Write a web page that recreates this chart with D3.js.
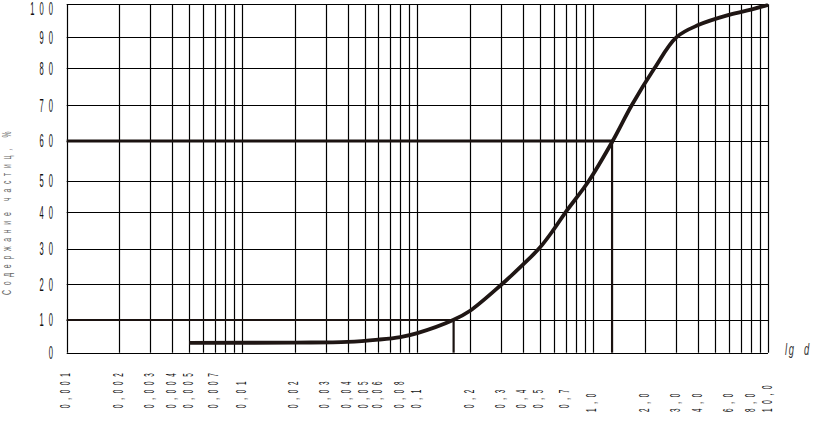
<!DOCTYPE html>
<html>
<head>
<meta charset="utf-8">
<script src="https://cdn.jsdelivr.net/npm/d3@7/dist/d3.min.js"></script>
<style>
  html, body { margin: 0; padding: 0; background: #fff; }
  svg { display: block; }
</style>
</head>
<body>
<svg id="chart" width="828" height="422"></svg>
<script>
// ---------- DATA ----------
const gridDecades = [0.001, 0.01, 0.1, 1];
const gridMultipliers = [1, 2, 3, 4, 5, 6, 7, 8, 9];
const gridEnd = 10;

const xLabelValues = [0.001, 0.002, 0.003, 0.004, 0.005, 0.007, 0.01, 0.02, 0.03, 0.04, 0.05, 0.06, 0.08, 0.1,
                      0.2, 0.3, 0.4, 0.5, 0.7, 1.0, 2.0, 3.0, 4.0, 6.0, 8.0, 10.0];
const xLabelTexts = ["0,001", "0,002", "0,003", "0,004", "0,005", "0,007", "0,01", "0,02", "0,03", "0,04", "0,05",
                     "0,06", "0,08", "0,1", "0,2", "0,3", "0,4", "0,5", "0,7", "1,0", "2,0", "3,0", "4,0", "6,0", "8,0", "10,0"];

const yTicks = [0, 10, 20, 30, 40, 50, 60, 70, 80, 90, 100];

// grain-size distribution curve: particle size d (mm) vs cumulative content (%)
const curveD       = [0.005, 0.02, 0.04, 0.06, 0.08, 0.1, 0.16, 0.2,  0.3,  0.4,  0.5,  0.6,  0.7, 0.95, 1.3, 1.67, 2.25, 3.0, 4.0,  6.0,  8.0,  10.0];
const curvePercent = [3.0,   3.1,  3.3,  4.0,  4.8,  6.0, 10,   12.6, 19.8, 25.5, 30.3, 35.3, 40,  50,   60,  70,   80,   90,  93.7, 96.8, 98.4, 99.8];

// characteristic diameters
const markerLevels = [10, 60];
const markerD      = [0.161, 1.29];

const yTitle = "Содержание частиц, %";
const xTitle = "lg  d";

// ---------- LAYOUT ----------
const plotLeft = 66.7, plotRight = 768, plotTop = 4.3, plotBottom = 352.7;
// the printed grid is hand-spaced; map each percent gridline to its printed row
const yRows = [352.7, 320, 284.3, 248.7, 212.3, 181, 141, 105.3, 68.3, 37.3, 4.3];

const svg = d3.select("#chart");

const x = d3.scaleLog().domain([0.001, 10]).range([plotLeft, plotRight]);
const y = d3.scaleLinear().domain(yTicks).range(yRows);

const gridValues = [];
gridDecades.forEach(dec => gridMultipliers.forEach(m => gridValues.push(+(dec * m).toPrecision(3))));
gridValues.push(gridEnd);

const g = svg.append("g");

// vertical grid
g.selectAll("line.v").data(gridValues).enter().append("line")
  .attr("x1", d => Math.round(x(d)) + 0.5).attr("x2", d => Math.round(x(d)) + 0.5)
  .attr("y1", plotTop).attr("y2", plotBottom)
  .attr("stroke", "#000").attr("stroke-width", 1.2);

// horizontal grid
g.selectAll("line.h").data(yTicks).enter().append("line")
  .attr("x1", plotLeft).attr("x2", plotRight)
  .attr("y1", d => Math.round(y(d)) + 0.5).attr("y2", d => Math.round(y(d)) + 0.5)
  .attr("stroke", "#000").attr("stroke-width", 1.2);

// characteristic lines (thick)
markerLevels.forEach((lvl, i) => {
  const w = lvl === 60 ? 3 : 2.2;
  g.append("line")
    .attr("x1", plotLeft).attr("x2", x(markerD[i]))
    .attr("y1", y(lvl)).attr("y2", y(lvl))
    .attr("stroke", "#1a1210").attr("stroke-width", w);
  g.append("line")
    .attr("x1", x(markerD[i])).attr("x2", x(markerD[i]))
    .attr("y1", y(lvl)).attr("y2", plotBottom)
    .attr("stroke", "#1a1210").attr("stroke-width", 2.2);
});

// curve
const line = d3.line().x(d => x(d[0])).y(d => y(d[1])).curve(d3.curveCatmullRom.alpha(0.5));
g.append("path")
  .datum(curveD.map((d, i) => [d, curvePercent[i]]))
  .attr("d", line)
  .attr("fill", "none").attr("stroke", "#1f1614").attr("stroke-width", 3.8)
  .attr("stroke-linejoin", "round").attr("stroke-linecap", "butt");

// y tick labels (tall condensed, spaced digits)
const ySX = 0.42;
svg.selectAll("text.yl").data(yTicks).enter().append("text")
  .attr("transform", d => `translate(58,${Math.max(y(d) + 6.3, 14.5)}) scale(${ySX},1)`)
  .attr("text-anchor", "end")
  .attr("font-family", "Liberation Sans, Arial, sans-serif")
  .attr("font-size", 18)
  .attr("letter-spacing", 12)
  .attr("fill", "#111")
  .text(d => String(d));

// x tick labels (rotated, reading upward)
const xSX = 0.45;
svg.selectAll("text.xl").data(xLabelValues).enter().append("text")
  .attr("transform", d => `translate(${x(d) + 3.5},${d >= 1 ? 412 : 408}) rotate(-90) scale(${xSX},1)`)
  .attr("text-anchor", "start")
  .attr("font-family", "Liberation Sans, Arial, sans-serif")
  .attr("font-size", 14)
  .attr("letter-spacing", 10.5)
  .attr("fill", "#111")
  .text((d, i) => xLabelTexts[i]);

// y axis title
svg.append("text")
  .attr("transform", `translate(11,295) rotate(-90) scale(0.55,1)`)
  .attr("text-anchor", "start")
  .attr("font-family", "Liberation Sans, Arial, sans-serif")
  .attr("font-size", 12.5)
  .attr("letter-spacing", 8.6)
  .attr("fill", "#666")
  .text(yTitle);

// x axis title
svg.append("text")
  .attr("transform", `translate(785,355) scale(0.55,1)`)
  .attr("font-family", "Liberation Sans, Arial, sans-serif")
  .attr("font-style", "italic")
  .attr("font-size", 17)
  .attr("letter-spacing", 3)
  .attr("fill", "#333")
  .style("white-space", "pre")
  .text(xTitle);
</script>
</body>
</html>
